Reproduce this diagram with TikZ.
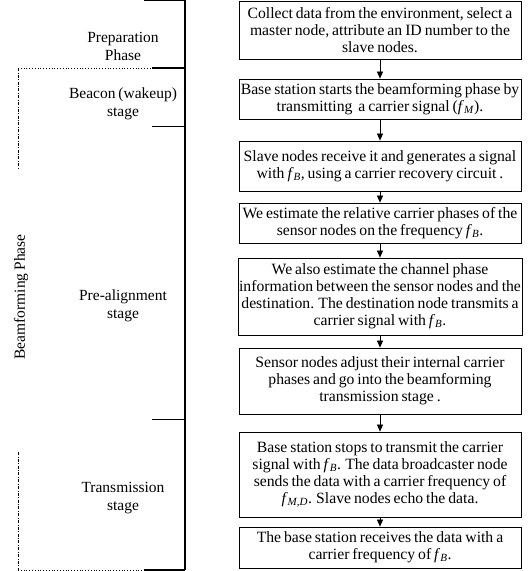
\documentclass[tikz,border=0pt]{standalone}
\usepackage{fontspec}
\setmainfont[WordSpace=0.75]{Liberation Serif}
\usetikzlibrary{arrows.meta}
\newcommand{\fv}[1]{\textit{f}\textsubscript{\textit{#1}}}
\begin{document}
\begin{tikzpicture}[x=1pt,y=-1pt,
  stepbox/.style={draw,line width=0.8pt,minimum width=282pt,align=center,inner sep=1pt,font=\fontsize{15.7}{17}\selectfont},
  flow/.style={-{Triangle[length=7pt,width=6pt]},line width=0.7pt},
  lab/.style={align=center,font=\fontsize{15.5}{18}\selectfont},
  thickln/.style={line width=1.8pt},
  thinln/.style={line width=0.9pt},
  dotln/.style={line width=0.8pt,dotted},
  dashdotln/.style={line width=0.8pt,dash pattern=on 3pt off 1.5pt on 0.8pt off 1.5pt}]
\useasboundingbox (0,0) rectangle (530,571);
% right flow boxes
\node[stepbox,minimum height=58pt] (b1) at (380,30) {Collect data from the environment, select a\\master node, attribute an ID number to the\\slave nodes.};
\node[stepbox,minimum height=40pt] (b2) at (380,99) {Base station starts the beamforming phase by\\transmitting\ \ a carrier signal (\fv{M}).};
\node[stepbox,minimum height=50pt] (b3) at (380,166) {Slave nodes receive it and generates a signal\\with \fv{B}, using a carrier recovery circuit .};
\node[stepbox,minimum height=40pt] (b4) at (380,223) {We estimate the relative carrier phases of the\\sensor nodes on the frequency \fv{B}.};
\node[stepbox,minimum height=77pt] (b5) at (380,296.5) {We also estimate the channel phase\\information between the sensor nodes and the\\destination. The destination node transmits a\\carrier signal with \fv{B}.};
\node[stepbox,minimum height=66pt] (b6) at (380,381) {Sensor nodes adjust their internal carrier\\phases and go into the beamforming\\transmission stage .};
\node[stepbox,minimum height=85pt] (b7) at (380,474.5) {Base station stops to transmit the carrier\\signal with \fv{B}. The data broadcaster node\\sends the data with a carrier frequency of\\\fv{M,D}. Slave nodes echo the data.};
\node[stepbox,minimum height=41pt] (b8) at (380,547.5) {The base station receives the data with a\\carrier frequency of \fv{B}.};
\draw[flow] (b1) -- (b2);
\draw[flow] (b2) -- (b3);
\draw[flow] (b3) -- (b4);
\draw[flow] (b4) -- (b5);
\draw[flow] (b5) -- (b6);
\draw[flow] (b6) -- (b7);
\draw[flow] (b7) -- (b8);
% left bracket
\coordinate (vt) at (185,0);
\coordinate (vb) at (185,570);
\draw[thickln] (vt) -- (vb);
\coordinate (t0) at (144,0.5);
\draw[thinln] (t0) -- (185,0.5);
\coordinate (t1a) at (18,68);
\coordinate (t1b) at (152,68);
\draw[dotln] (t1a) -- (t1b);
\draw[thickln] (t1b) -- (185,68);
\coordinate (t2) at (152,126);
\draw[thinln] (t2) -- (185,126);
\coordinate (t3) at (152,419);
\draw[thinln] (t3) -- (185,419);
\coordinate (t4a) at (18,570);
\coordinate (t4b) at (144,570);
\draw[dotln] (t4a) -- (t4b);
\draw[thickln] (t4b) -- (vb);
\draw[dashdotln] (t1a) -- (18,168);
\draw[dashdotln] (18,452) -- (t4a);
% labels
\node[lab] (l1) at (123,46) {Preparation\\Phase};
\node[lab] (l2) at (123,104) {Beacon (wakeup)\\stage};
\node[lab] (l3) at (123,306) {Pre-alignment\\stage};
\node[lab] (l4) at (123,498) {Transmission\\stage};
\node[lab,rotate=90] (l5) at (21,297) {Beamforming Phase};
\end{tikzpicture}
\end{document}
